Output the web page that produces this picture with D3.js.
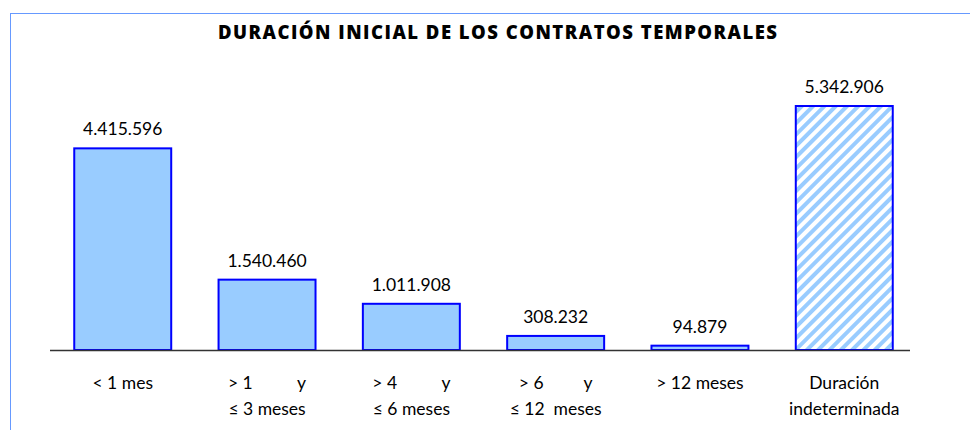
<!DOCTYPE html>
<html>
<head>
<meta charset="utf-8">
<script src="https://cdn.jsdelivr.net/npm/d3@7"></script>
<style>
  body { margin: 0; background: #fff; }
  svg { display: block; font-family: Lato, "Open Sans", sans-serif; }
  text { white-space: pre; }
</style>
</head>
<body>
<div id="chart"></div>
<script>
var title = 'DURACIÓN INICIAL DE LOS CONTRATOS TEMPORALES'
var labelTop = ['< 1 mes', '> 1          y', '> 4          y', '> 6         y', '> 12 meses', 'Duración']
var labelBottom = ['', '≤ 3 meses', '≤ 6 meses', '≤ 12  meses', '', 'indeterminada']
var values = [4415596, 1540460, 1011908, 308232, 94879, 5342906]
var hatched = [false, false, false, false, false, true]

var width = 970
var height = 430

var svg = d3.select('#chart')
  .append('svg')
  .attr('width', width)
  .attr('height', height)

// striped fill for the last bar
var defs = svg.append('defs')
var pat = defs.append('pattern')
  .attr('id', 'stripes')
  .attr('patternUnits', 'userSpaceOnUse')
  .attr('width', 8)
  .attr('height', 8)
  .attr('patternTransform', 'rotate(45)')
pat.append('rect')
  .attr('width', 8).attr('height', 8).attr('fill', '#fff')
pat.append('rect')
  .attr('width', 4).attr('height', 8).attr('fill', '#99ccff')

// frame lines, top and left only
svg.append('line')
  .attr('x1', 10).attr('x2', width).attr('y1', 13.5).attr('y2', 13.5)
  .attr('stroke', '#6699ff').attr('stroke-width', 1)
svg.append('line')
  .attr('x1', 10.5).attr('x2', 10.5).attr('y1', 13).attr('y2', height)
  .attr('stroke', '#6699ff').attr('stroke-width', 1)

svg.append('text')
  .text(title)
  .attr('x', 497.5)
  .attr('y', 39)
  .attr('text-anchor', 'middle')
  .attr('font-family', '"Open Sans", Lato, sans-serif')
  .attr('font-weight', 800)
  .attr('font-size', 18.5)
  .attr('textLength', 559)
  .attr('lengthAdjust', 'spacing')
  .attr('fill', '#000')

var idx = d3.range(values.length)

var x = d3.scaleBand()
  .domain(idx)
  .range([50, 917])
  .paddingInner(0.328)
  .paddingOuter(0.168)

var y = d3.scaleLinear()
  .domain([0, 6000000])
  .range([350, 76])

var fmt = d3.formatLocale({ decimal: ',', thousands: '.', grouping: [3], currency: ['', '€'] }).format(',d')

svg.append('g')
  .selectAll('rect')
  .data(idx)
  .enter().append('rect')
  .attr('x', i => x(i))
  .attr('y', i => y(values[i]))
  .attr('width', x.bandwidth())
  .attr('height', i => y(0) - y(values[i]))
  .attr('fill', i => hatched[i] ? 'url(#stripes)' : '#99ccff')
  .attr('stroke', '#0000ff')
  .attr('stroke-width', 2)

// baseline
svg.append('line')
  .attr('x1', 50).attr('x2', 910)
  .attr('y1', y(0) + 0.5).attr('y2', y(0) + 0.5)
  .attr('stroke', '#333').attr('stroke-width', 1.5)

svg.append('g')
  .selectAll('text')
  .data(idx)
  .enter().append('text')
  .text(i => fmt(values[i]))
  .attr('x', i => x(i) + x.bandwidth() / 2)
  .attr('y', i => y(values[i]) - 13)
  .attr('text-anchor', 'middle')
  .attr('font-size', 17.5)
  .attr('fill', '#000')

var cats = svg.append('g')
  .selectAll('text')
  .data(idx)
  .enter().append('text')
  .attr('text-anchor', 'middle')
  .attr('font-size', 17.5)
  .attr('fill', '#000')

cats.append('tspan')
  .attr('x', i => x(i) + x.bandwidth() / 2)
  .attr('y', 389)
  .text(i => labelTop[i])
cats.append('tspan')
  .attr('x', i => x(i) + x.bandwidth() / 2)
  .attr('y', 415)
  .text(i => labelBottom[i])
</script>
</body>
</html>
